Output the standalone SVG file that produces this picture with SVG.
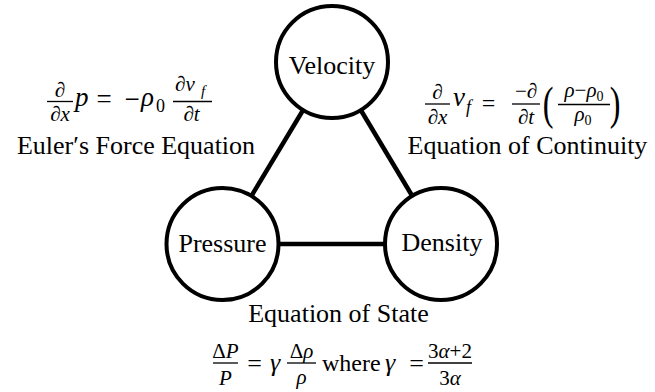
<svg xmlns="http://www.w3.org/2000/svg" width="655" height="392" viewBox="0 0 655 392">
<style>
.node{fill:#fff;stroke:#000;stroke-width:4}
.edge{stroke:#000;stroke-width:4.5;fill:none}
.bar{stroke:#000;stroke-width:1.3}
</style>
<rect width="655" height="392" fill="#fff"/>
<g id="connectors">
<line class="edge" x1="332" y1="62" x2="222.5" y2="244"/>
<line class="edge" x1="332" y1="62" x2="441" y2="244"/>
<line class="edge" x1="222.5" y1="244" x2="441" y2="244"/>
</g>
<g id="node-velocity">
<circle class="node" cx="332" cy="62" r="56"/>
<text style="font-family:'Liberation Serif','Times New Roman',serif;font-size:26px" x="332" y="74" text-anchor="middle">Velocity</text>
</g>
<g id="node-pressure">
<circle class="node" cx="222.5" cy="244" r="56"/>
<text style="font-family:'Liberation Serif','Times New Roman',serif;font-size:26px" x="222.5" y="252" text-anchor="middle">Pressure</text>
</g>
<g id="node-density">
<circle class="node" cx="441" cy="244" r="56"/>
<text style="font-family:'Liberation Serif','Times New Roman',serif;font-size:26px" x="442" y="251" text-anchor="middle">Density</text>
</g>
<g id="label-euler">
<text style="font-family:'Liberation Serif',serif;font-style:italic;font-size:21px" x="60" y="97" text-anchor="middle">∂</text>
<line class="bar" x1="47" y1="101.5" x2="73" y2="101.5"/>
<text style="font-family:'Liberation Serif',serif;font-style:italic;font-size:21px" x="60" y="121" text-anchor="middle">∂x</text>
<text style="font-family:'Liberation Serif',serif;font-style:italic;font-size:27px" x="75" y="106">p</text>
<text style="font-family:'Liberation Serif',serif;font-size:27px" x="104" y="108" text-anchor="middle">=</text>
<text style="font-family:'Liberation Serif',serif;font-size:27px" x="132" y="108" text-anchor="middle">−</text>
<text style="font-family:'Liberation Serif',serif;font-style:italic;font-size:27px" x="141" y="106">ρ</text>
<text style="font-family:'Liberation Serif',serif;font-size:18px" x="156" y="112">0</text>
<text style="font-family:'Liberation Serif',serif;font-style:italic;font-size:21px" x="175" y="91">∂v</text>
<text style="font-family:'Liberation Serif',serif;font-style:italic;font-size:15px" x="201" y="96">f</text>
<line class="bar" x1="173" y1="101.5" x2="212" y2="101.5"/>
<text style="font-family:'Liberation Serif',serif;font-style:italic;font-size:21px" x="191.5" y="121" text-anchor="middle">∂t</text>
<text style="font-family:'Liberation Serif','Times New Roman',serif;font-size:26px" x="136" y="154" text-anchor="middle">Euler′s Force Equation</text>
</g>
<g id="label-continuity">
<text style="font-family:'Liberation Serif',serif;font-style:italic;font-size:21px" x="437.5" y="99" text-anchor="middle">∂</text>
<line class="bar" x1="425" y1="104" x2="450" y2="104"/>
<text style="font-family:'Liberation Serif',serif;font-style:italic;font-size:21px" x="437.5" y="124" text-anchor="middle">∂x</text>
<text style="font-family:'Liberation Serif',serif;font-style:italic;font-size:27px" x="453" y="106">v</text>
<text style="font-family:'Liberation Serif',serif;font-style:italic;font-size:18px" x="466" y="113">f</text>
<text style="font-family:'Liberation Serif',serif;font-size:24px" x="488.5" y="111" text-anchor="middle">=</text>
<text style="font-family:'Liberation Serif',serif;font-size:21px" x="526" y="98" text-anchor="middle">−<tspan font-style="italic">∂</tspan></text>
<line class="bar" x1="512" y1="104" x2="540" y2="104"/>
<text style="font-family:'Liberation Serif',serif;font-style:italic;font-size:21px" x="526" y="124" text-anchor="middle">∂t</text>
<text style="font-family:'Liberation Serif',serif;font-size:46px" transform="translate(548 119) scale(0.7 1)" text-anchor="middle">(</text>
<text style="font-family:'Liberation Serif',serif;font-size:21px" x="584" y="97" text-anchor="middle"><tspan font-style="italic">ρ</tspan>−<tspan font-style="italic">ρ</tspan><tspan font-size="14" dy="4">0</tspan></text>
<line class="bar" x1="558" y1="104.5" x2="610" y2="104.5"/>
<text style="font-family:'Liberation Serif',serif;font-size:21px" x="583" y="121" text-anchor="middle"><tspan font-style="italic">ρ</tspan><tspan font-size="14" dy="4">0</tspan></text>
<text style="font-family:'Liberation Serif',serif;font-size:46px" transform="translate(615 119) scale(0.7 1)" text-anchor="middle">)</text>
<text style="font-family:'Liberation Serif','Times New Roman',serif;font-size:26px" x="527.5" y="154" text-anchor="middle">Equation of Continuity</text>
</g>
<g id="label-state">
<text style="font-family:'Liberation Serif','Times New Roman',serif;font-size:26px" x="338.5" y="322" text-anchor="middle">Equation of State</text>
<text style="font-family:'Liberation Serif',serif;font-size:21px" x="225.5" y="358" text-anchor="middle">Δ<tspan font-style="italic">P</tspan></text>
<line class="bar" x1="213" y1="363" x2="238" y2="363"/>
<text style="font-family:'Liberation Serif',serif;font-style:italic;font-size:21px" x="225.5" y="385" text-anchor="middle">P</text>
<text style="font-family:'Liberation Serif',serif;font-size:26px" x="254.5" y="372" text-anchor="middle">=</text>
<text style="font-family:'Liberation Serif',serif;font-style:italic;font-size:26px" x="270" y="371">γ</text>
<text style="font-family:'Liberation Serif',serif;font-size:21px" x="301.5" y="358" text-anchor="middle">Δ<tspan font-style="italic">ρ</tspan></text>
<line class="bar" x1="287" y1="363" x2="316" y2="363"/>
<text style="font-family:'Liberation Serif',serif;font-style:italic;font-size:21px" x="301.5" y="384" text-anchor="middle">ρ</text>
<text style="font-family:'Liberation Serif',serif;font-size:24px" x="322" y="371">where</text>
<text style="font-family:'Liberation Serif',serif;font-style:italic;font-size:26px" x="385" y="371">γ</text>
<text style="font-family:'Liberation Serif',serif;font-size:26px" x="416.5" y="372" text-anchor="middle">=</text>
<text style="font-family:'Liberation Serif',serif;font-size:21px" x="450" y="358" text-anchor="middle">3<tspan font-style="italic">α</tspan>+2</text>
<line class="bar" x1="428" y1="363" x2="472" y2="363"/>
<text style="font-family:'Liberation Serif',serif;font-size:21px" x="450" y="385" text-anchor="middle">3<tspan font-style="italic">α</tspan></text>
</g>
</svg>
